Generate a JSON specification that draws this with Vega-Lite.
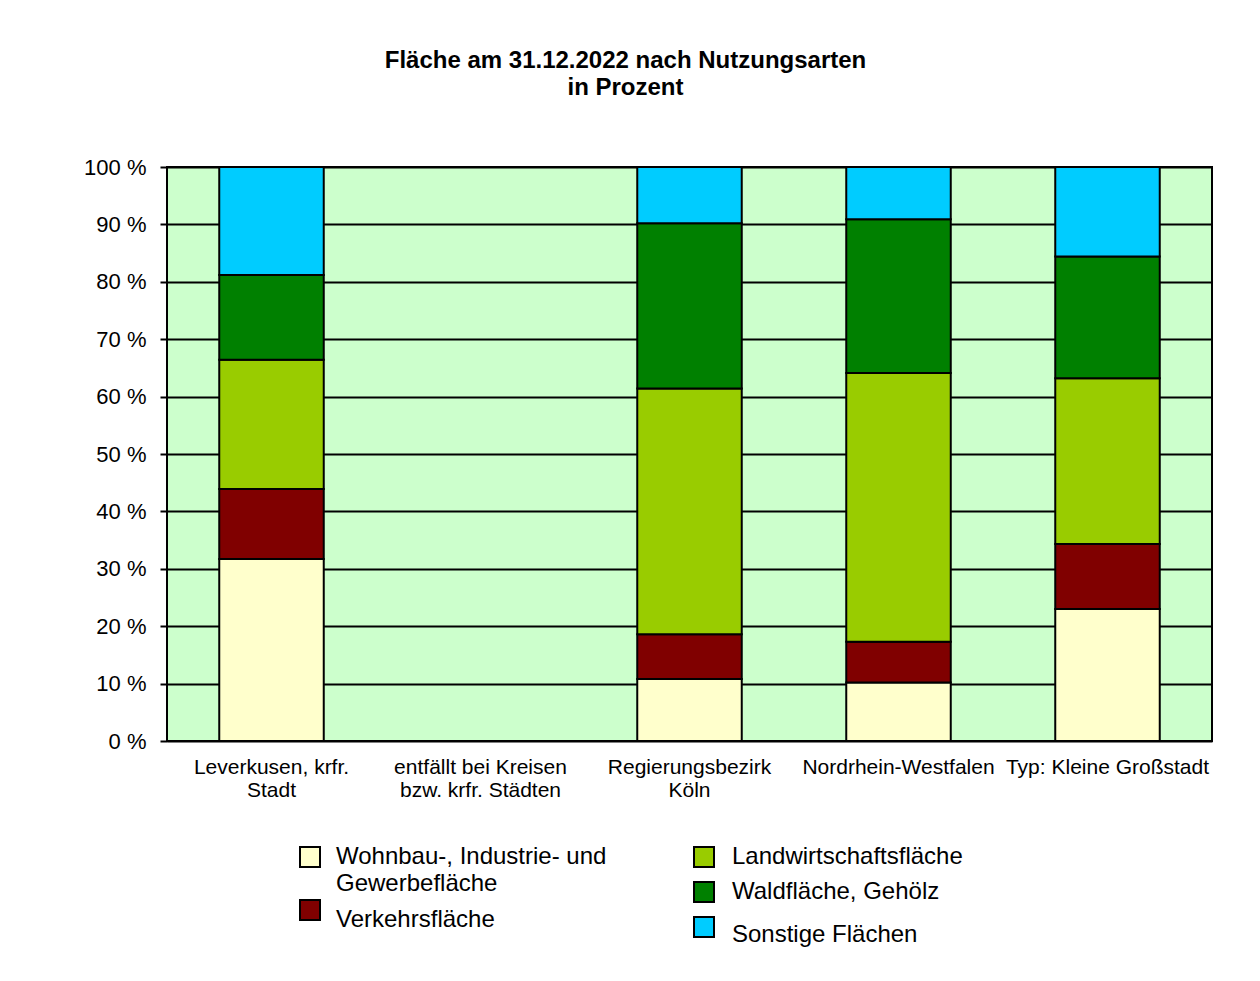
{
  "$schema": "https://vega.github.io/schema/vega-lite/v6.json",
  "autosize": "none",
  "width": 1045,
  "height": 574,
  "padding": {"left": 167, "top": 167, "right": 48, "bottom": 240},
  "background": "white",
  "title": {
    "text": ["Fläche am 31.12.2022 nach Nutzungsarten", "in Prozent"],
    "font": "Liberation Sans",
    "fontSize": 24,
    "fontWeight": "bold",
    "color": "black",
    "anchor": "middle",
    "frame": "group",
    "dx": -64,
    "offset": 56,
    "lineHeight": 27
  },
  "config": {
    "view": {"stroke": "black", "strokeWidth": 2, "fill": "#CCFFCC"},
    "font": "Liberation Sans",
    "legend": {
      "orient": "none",
      "padding": 0,
      "symbolType": "square",
      "symbolSize": 400,
      "symbolStrokeColor": "black",
      "symbolStrokeWidth": 2,
      "symbolOpacity": 1,
      "labelFont": "Liberation Sans",
      "labelFontSize": 24,
      "labelColor": "black",
      "labelLimit": 400,
      "labelOffset": 14,
      "title": null
    }
  },
  "data": {
    "values": [
      {"region": "Leverkusen, krfr. Stadt", "type": "Wohnbau-, Industrie- und Gewerbefläche", "value": 31.7},
      {"region": "Leverkusen, krfr. Stadt", "type": "Verkehrsfläche", "value": 12.2},
      {"region": "Leverkusen, krfr. Stadt", "type": "Landwirtschaftsfläche", "value": 22.5},
      {"region": "Leverkusen, krfr. Stadt", "type": "Waldfläche, Gehölz", "value": 14.8},
      {"region": "Leverkusen, krfr. Stadt", "type": "Sonstige Flächen", "value": 18.8},
      {"region": "Regierungsbezirk Köln", "type": "Wohnbau-, Industrie- und Gewerbefläche", "value": 10.8},
      {"region": "Regierungsbezirk Köln", "type": "Verkehrsfläche", "value": 7.8},
      {"region": "Regierungsbezirk Köln", "type": "Landwirtschaftsfläche", "value": 42.8},
      {"region": "Regierungsbezirk Köln", "type": "Waldfläche, Gehölz", "value": 28.8},
      {"region": "Regierungsbezirk Köln", "type": "Sonstige Flächen", "value": 9.8},
      {"region": "Nordrhein-Westfalen", "type": "Wohnbau-, Industrie- und Gewerbefläche", "value": 10.2},
      {"region": "Nordrhein-Westfalen", "type": "Verkehrsfläche", "value": 7.1},
      {"region": "Nordrhein-Westfalen", "type": "Landwirtschaftsfläche", "value": 46.8},
      {"region": "Nordrhein-Westfalen", "type": "Waldfläche, Gehölz", "value": 26.8},
      {"region": "Nordrhein-Westfalen", "type": "Sonstige Flächen", "value": 9.1},
      {"region": "Typ: Kleine Großstadt", "type": "Wohnbau-, Industrie- und Gewerbefläche", "value": 23.0},
      {"region": "Typ: Kleine Großstadt", "type": "Verkehrsfläche", "value": 11.3},
      {"region": "Typ: Kleine Großstadt", "type": "Landwirtschaftsfläche", "value": 28.9},
      {"region": "Typ: Kleine Großstadt", "type": "Waldfläche, Gehölz", "value": 21.2},
      {"region": "Typ: Kleine Großstadt", "type": "Sonstige Flächen", "value": 15.6}
    ]
  },
  "transform": [
    {"stack": "value", "groupby": ["region"], "as": ["y0", "y1"]}
  ],
  "encoding": {
    "x": {
      "field": "region",
      "type": "nominal",
      "sort": null,
      "scale": {
        "domain": ["Leverkusen, krfr. Stadt", "entfällt bei Kreisen bzw. krfr. Städten", "Regierungsbezirk Köln", "Nordrhein-Westfalen", "Typ: Kleine Großstadt"],
        "paddingInner": 0.5,
        "paddingOuter": 0.25
      },
      "axis": {
        "title": null,
        "labelAngle": 0,
        "domain": false,
        "ticks": false,
        "labelPadding": 15,
        "labelFont": "Liberation Sans",
        "labelFontSize": 21,
        "labelColor": "black",
        "labelLineHeight": 23,
        "labelLimit": 400,
        "labelOverlap": false,
        "labelBound": false,
        "labelBaseline": "top",
        "labelExpr": "datum.value == 'Leverkusen, krfr. Stadt' ? ['Leverkusen, krfr.', 'Stadt'] : datum.value == 'entfällt bei Kreisen bzw. krfr. Städten' ? ['entfällt bei Kreisen', 'bzw. krfr. Städten'] : datum.value == 'Regierungsbezirk Köln' ? ['Regierungsbezirk', 'Köln'] : datum.label"
      }
    },
    "y": {
      "field": "y0",
      "type": "quantitative",
      "scale": {"domain": [0, 100], "nice": false},
      "axis": {
        "title": null,
        "values": [0, 10, 20, 30, 40, 50, 60, 70, 80, 90, 100],
        "labelExpr": "datum.value + ' %'",
        "grid": true,
        "gridColor": "black",
        "gridWidth": 2,
        "gridOpacity": 1,
        "domain": false,
        "tickColor": "black",
        "tickWidth": 2,
        "tickSize": 7,
        "labelPadding": 14,
        "labelFont": "Liberation Sans",
        "labelFontSize": 22,
        "labelColor": "black"
      }
    },
    "y2": {"field": "y1"}
  },
  "layer": [
    {
      "transform": [{"filter": "datum.type == 'Wohnbau-, Industrie- und Gewerbefläche' || datum.type == 'Verkehrsfläche'"}],
      "mark": {"type": "bar", "stroke": "black", "strokeWidth": 2, "opacity": 1},
      "encoding": {
        "color": {
          "field": "type",
          "type": "nominal",
          "scale": {
            "domain": ["Wohnbau-, Industrie- und Gewerbefläche", "Verkehrsfläche"],
            "range": ["#FFFFCC", "#800000"]
          },
          "legend": {
            "legendX": 131,
            "legendY": 678,
            "labelBaseline": "top",
            "rowPadding": 0,
            "labelExpr": "datum.label == 'Wohnbau-, Industrie- und Gewerbefläche' ? ['Wohnbau-, Industrie- und', 'Gewerbefläche'] : datum.label",
            "encode": {"labels": {"update": {
              "lineHeight": {"value": 27},
              "dy": {"signal": "datum.value == 'Wohnbau-, Industrie- und Gewerbefläche' ? -12 : -2"}
            }}}
          }
        }
      }
    },
    {
      "transform": [{"filter": "datum.type != 'Wohnbau-, Industrie- und Gewerbefläche' && datum.type != 'Verkehrsfläche'"}],
      "mark": {"type": "bar", "stroke": "black", "strokeWidth": 2, "opacity": 1},
      "encoding": {
        "fill": {
          "field": "type",
          "type": "nominal",
          "scale": {
            "domain": ["Landwirtschaftsfläche", "Waldfläche, Gehölz", "Sonstige Flächen"],
            "range": ["#99CC00", "#008000", "#00CCFF"]
          },
          "legend": {
            "legendX": 525,
            "legendY": 678,
            "labelOffset": 16,
            "rowPadding": 7,
            "encode": {"labels": {"update": {
              "dy": {"signal": "datum.value == 'Sonstige Flächen' ? 8 : 0"}
            }}}
          }
        }
      }
    }
  ]
}
